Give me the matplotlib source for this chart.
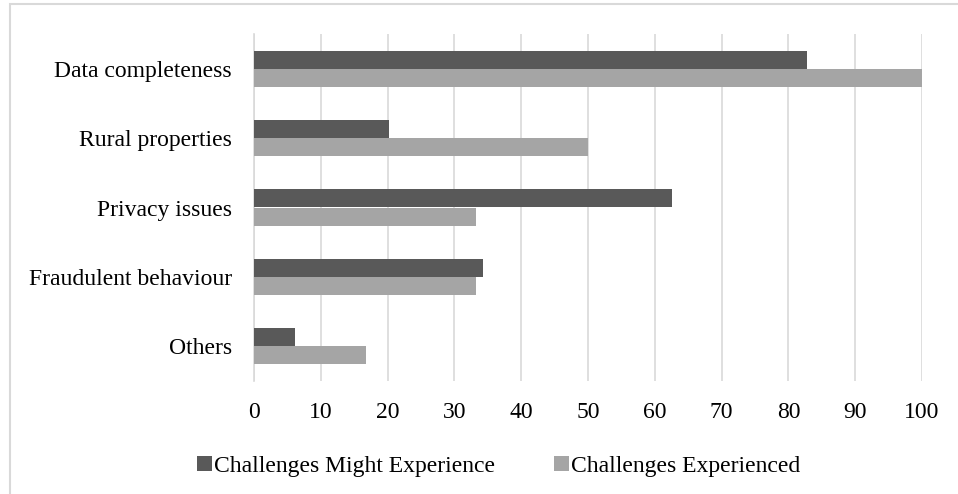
import matplotlib

matplotlib.use("Agg")
import matplotlib.pyplot as plt
from matplotlib.patches import Rectangle
import numpy as np

categories = ["Data completeness", "Rural properties", "Privacy issues",
              "Fraudulent behaviour", "Others"]
might_experience = [82.8, 20.2, 62.5, 34.3, 6.1]
experienced = [100.0, 50.0, 33.3, 33.3, 16.7]
x_ticks = [0, 10, 20, 30, 40, 50, 60, 70, 80, 90, 100]

DARK = "#595959"
LIGHT = "#a5a5a5"
GRID = "#d9d9d9"

plt.rcParams["font.family"] = ["Liberation Serif", "DejaVu Serif"]

W, H = 958, 494
fig = plt.figure(figsize=(W / 100, H / 100), dpi=100)
ax = fig.add_axes([254 / W, 1 - 381 / H, (922 - 254) / W, (381 - 34) / H])

# outer chart frame (only top/left edges fall inside the image)
fig.patches.append(Rectangle((10 / W, -0.1), 1.2, 1 - 4.5 / H + 0.1,
                             transform=fig.transFigure, fill=False,
                             edgecolor=GRID, linewidth=1.5))

y = np.arange(len(categories))
h = 0.26
ax.barh(y - h / 2, might_experience, height=h, color=DARK,
        label="Challenges Might Experience", zorder=3)
ax.barh(y + h / 2, experienced, height=h, color=LIGHT,
        label="Challenges Experienced", zorder=3)

ax.set_ylim(len(categories) - 0.5, -0.5)
ax.set_xlim(0, 100)
ax.set_xticks(x_ticks)
ax.set_yticks(y)
ax.set_yticklabels(categories)
ax.tick_params(axis="both", length=0, labelsize=17, colors="black")
ax.tick_params(axis="x", pad=15)
ax.tick_params(axis="y", pad=16)
ax.xaxis.grid(True, color=GRID, linewidth=1.2, zorder=0)
for name in ("top", "right", "bottom"):
    ax.spines[name].set_visible(False)
ax.spines["left"].set_color(GRID)
ax.spines["left"].set_linewidth(1.2)

fig.legend(loc="center", bbox_to_anchor=(499 / W, 1 - 466 / H), ncol=2,
           frameon=False, fontsize=17, handlelength=0.62, handleheight=0.62,
           handletextpad=0.1, columnspacing=2.5)

fig.savefig("out.png", dpi=100)
